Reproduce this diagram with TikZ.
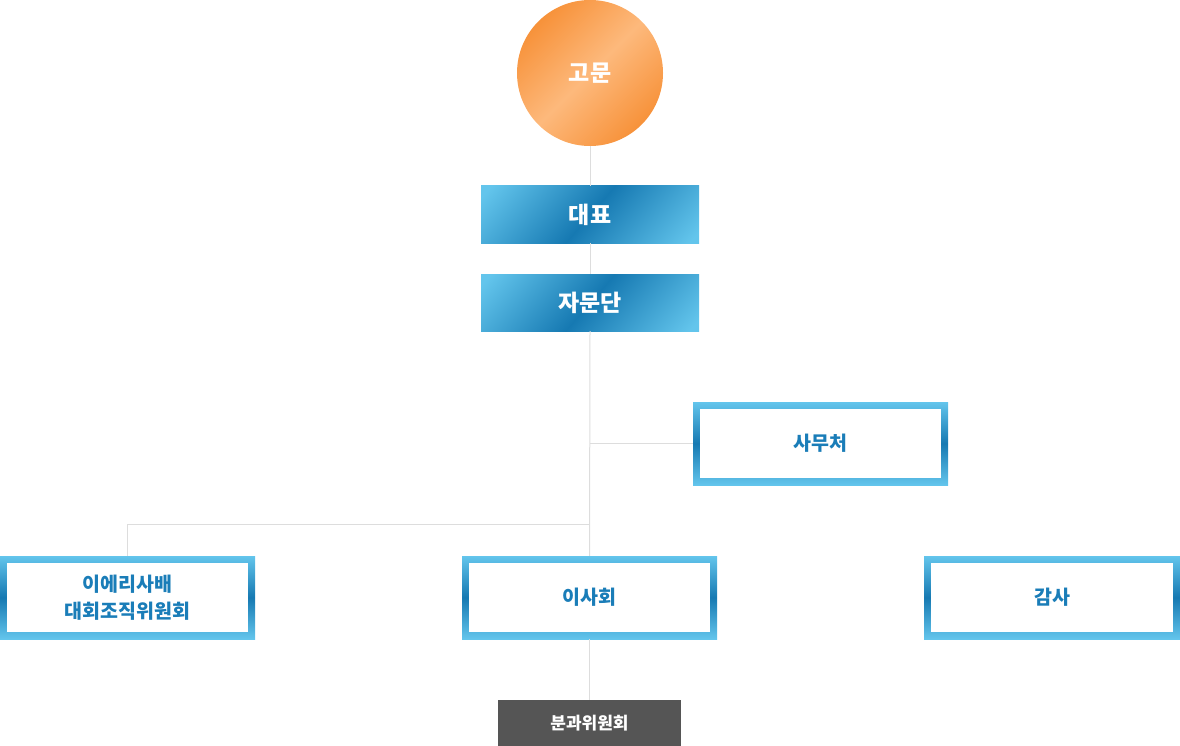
\documentclass[tikz,border=0pt]{standalone}
\usepackage{fontspec}
\newfontfamily\kr{Noto Sans CJK KR}
\definecolor{lb}{HTML}{63C5EC}
\definecolor{db}{HTML}{1679B2}
\definecolor{lo}{HTML}{FDB97C}
\definecolor{dorange}{HTML}{F7923A}
\definecolor{txtblue}{HTML}{1A7DB8}
\definecolor{conncol}{HTML}{DDDDDD}
\definecolor{graybox}{HTML}{555555}
\pgfdeclarehorizontalshading{bluebar}{100bp}{color(0bp)=(lb); color(32bp)=(lb); color(50bp)=(db); color(68bp)=(lb); color(100bp)=(lb)}
\pgfdeclarehorizontalshading{orangebar}{100bp}{color(0bp)=(dorange); color(25bp)=(dorange); color(50bp)=(lo); color(75bp)=(dorange); color(100bp)=(dorange)}
\pgfdeclareverticalshading{framegrad}{100bp}{color(0bp)=(lb); color(25bp)=(lb); color(50bp)=(db); color(75bp)=(lb); color(100bp)=(lb)}
\tikzset{
  conn/.style={draw=conncol, line width=1pt},
  bluebox/.style={rectangle, minimum width=218pt, minimum height=57pt, inner sep=0pt,
    text=white, font=\kr\bfseries\fontsize{23}{27}\selectfont,
    path picture={\shade[shading=bluebar, shading angle=-41]
      ([shift={(-130pt,-130pt)}]path picture bounding box.center) rectangle
      ([shift={(130pt,130pt)}]path picture bounding box.center);}},
  framebox/.style={rectangle, minimum width=255pt, minimum height=83pt, inner sep=0pt,
    shading=framegrad, text=txtblue, align=center,
    font=\kr\bfseries\fontsize{19.5}{27}\selectfont,
    path picture={\fill[white]
      ([shift={(7pt,7pt)}]path picture bounding box.south west) rectangle
      ([shift={(-7pt,-7pt)}]path picture bounding box.north east);}},
  circbox/.style={circle, minimum size=146pt, inner sep=0pt, shading=orangebar, shading angle=-45,
    text=white, font=\kr\bfseries\fontsize{23}{27}\selectfont},
  graybx/.style={rectangle, minimum width=183pt, minimum height=46pt, inner sep=0pt, fill=graybox,
    text=white, font=\kr\bfseries\fontsize{17}{20}\selectfont},
}
\begin{document}
\begin{tikzpicture}[x=1pt,y=1pt]
\useasboundingbox (0,0) rectangle (1180,-746);
\node[circbox] (gomun) at (590,-73) {고문};
\node[bluebox] (daepyo) at (590,-214.5) {대표};
\node[bluebox] (jamun) at (590,-302.5) {자문단};
\node[framebox] (samu) at (820.5,-443.5) {사무처};
\node[framebox] (ieri) at (127.5,-597.5) {이에리사배\\대회조직위원회};
\node[framebox] (isa) at (589.5,-597.5) {이사회};
\node[framebox, minimum width=256pt] (gamsa) at (1052,-597.5) {감사};
\node[graybx] (bungwa) at (589.5,-723) {분과위원회};
\coordinate (j1) at (590,-524);
\draw[conn] (gomun.south) -- (daepyo.north);
\draw[conn] (daepyo.south) -- (jamun.north);
\draw[conn] (jamun.south) -- (isa.north);
\draw[conn] (samu.west) -- (samu.west -| jamun.south);
\draw[conn] (ieri.north) |- (j1);
\draw[conn] (isa.south) -- (bungwa.north);
\end{tikzpicture}
\end{document}
